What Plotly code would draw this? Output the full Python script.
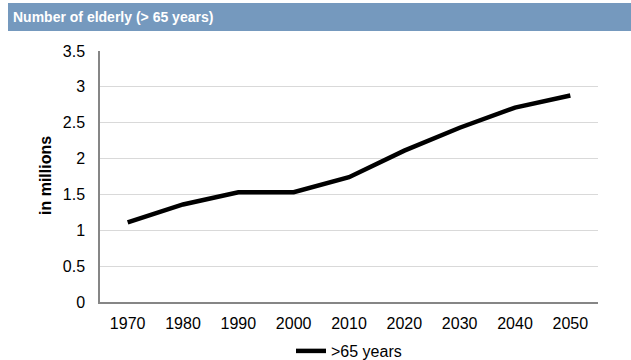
import plotly.graph_objects as go

# Number of people aged over 65, in millions
years = ["1970", "1980", "1990", "2000", "2010", "2020", "2030", "2040", "2050"]
elderly = [1.11, 1.36, 1.53, 1.53, 1.74, 2.11, 2.43, 2.71, 2.88]
y_ticks = [0, 0.5, 1, 1.5, 2, 2.5, 3, 3.5]
y_tick_text = ["0", "0.5", "1", "1.5", "2", "2.5", "3", "3.5"]

W, H = 631, 360
L, R, T, B = 100, 33, 51, 58
plot_w = W - L - R
plot_h = H - T - B


def px_x(px):
    return (px - L) / plot_w


def px_y(py):
    return (H - B - py) / plot_h


fig = go.Figure()
fig.add_trace(go.Scatter(
    x=years, y=elderly, mode="lines", name=">65 years",
    line=dict(color="#000000", width=4.5),
))

font_main = "Arial, Liberation Sans, sans-serif"

fig.update_layout(
    width=W, height=H,
    margin=dict(l=L, r=R, t=T, b=B, autoexpand=False),
    paper_bgcolor="white", plot_bgcolor="white",
    font=dict(family=font_main, size=16, color="#000000"),
    showlegend=True,
    legend=dict(orientation="h", x=0.5, xanchor="center",
                y=px_y(334), yanchor="top",
                font=dict(size=16), itemwidth=30,
                bgcolor="rgba(0,0,0,0)"),
    xaxis=dict(type="category", range=[-0.5, len(years) - 0.5],
               showgrid=False, showline=True,
               linecolor="#868686", linewidth=1.5, ticks="",
               ticklabelstandoff=6, tickfont=dict(size=16)),
    yaxis=dict(range=[0, 3.5], tickvals=y_ticks, ticktext=y_tick_text,
               showgrid=True, gridcolor="#d9d9d9", gridwidth=1,
               showline=True, linecolor="#868686", linewidth=1.5,
               zeroline=False, ticks="", ticklabelstandoff=10,
               tickfont=dict(size=16)),
    shapes=[dict(type="rect", xref="paper", yref="paper",
                 x0=px_x(8), x1=px_x(632), y0=px_y(31), y1=px_y(3),
                 fillcolor="#7599be", line=dict(width=0), layer="above")],
    annotations=[
        dict(text="<b>Number of elderly (> 65 years)</b>", xref="paper", yref="paper",
             x=px_x(11), y=px_y(17), xanchor="left", yanchor="middle",
             showarrow=False, font=dict(family=font_main, size=14, color="white")),
        dict(text="<b>in millions</b>", xref="paper", yref="paper",
             x=px_x(45), y=px_y(176), xanchor="center", yanchor="middle",
             textangle=-90, showarrow=False,
             font=dict(family=font_main, size=16, color="#000000")),
    ],
)

fig.write_html("out.html")
